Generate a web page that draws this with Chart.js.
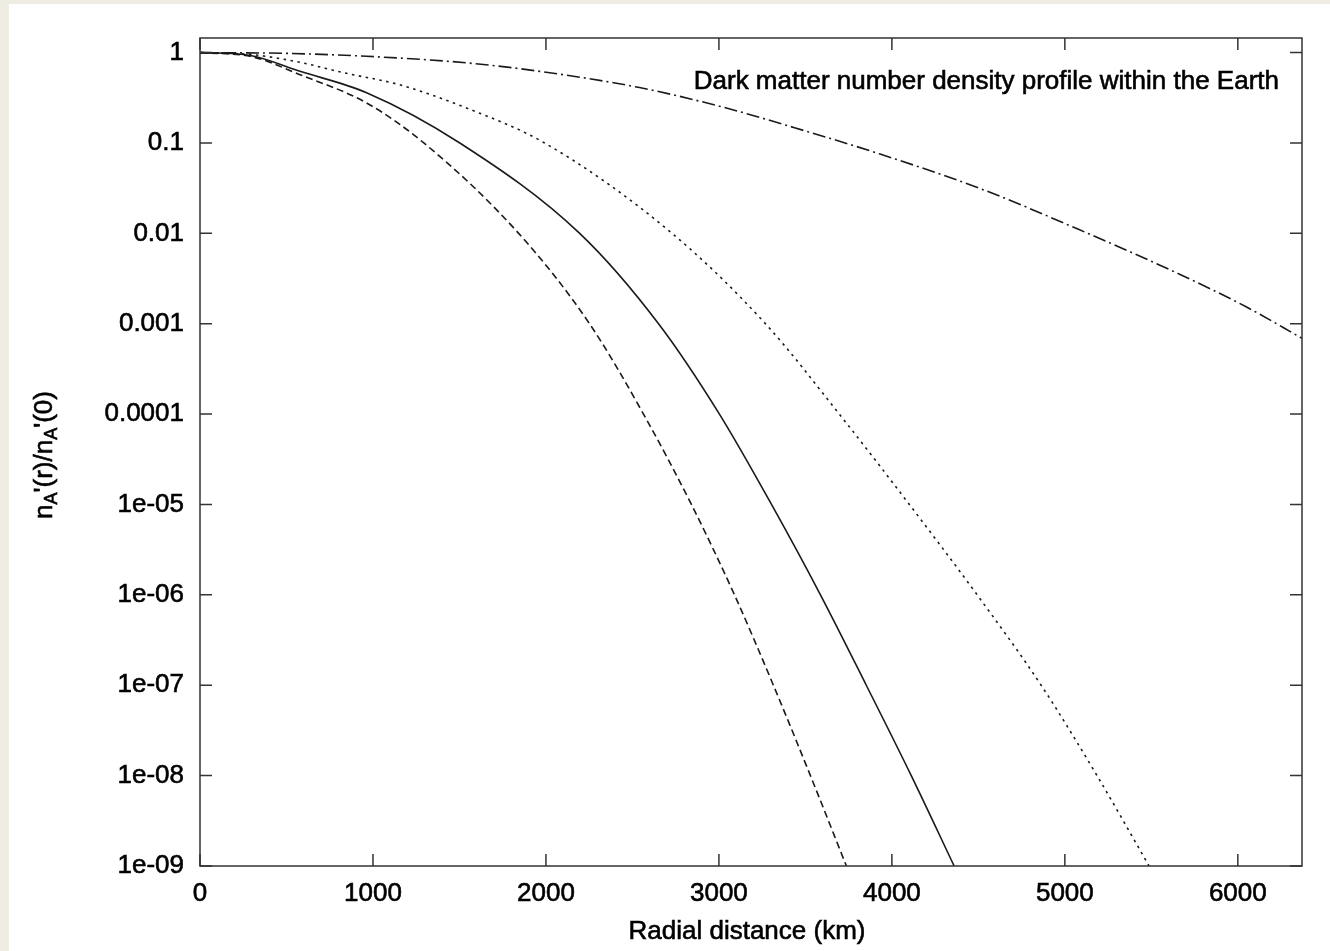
<!DOCTYPE html>
<html lang="en">

<head>
    <meta charset="UTF-8" />
    <title>Dark matter number density profile within the Earth</title>
    <script src="https://cdn.jsdelivr.net/npm/chart.js"></script>
    <style>
        html,
        body {
            margin: 0;
            padding: 0;
            background: #eeece3;
        }

        #panel {
            position: absolute;
            left: 9px;
            top: 4px;
            width: 1321px;
            height: 947px;
            background: #ffffff;
        }
    </style>
</head>

<body>

    <div id="panel"><canvas id="profileChart"></canvas></div>

    <script>
        // Radial distance (km) and n_A'(r)/n_A'(0)
        // (mostly the radius where each curve crosses a decade line)
        const radiusDashed = [0, 300, 578, 963, 1294, 1842, 2252, 2564, 2841, 3090, 3315, 3529, 3737];
        const densityDashed = [1, 0.9, 0.57, 0.277, 0.1, 0.01, 1e-3, 1e-4, 1e-5, 1e-6, 1e-7, 1e-8, 1e-9];

        const radiusSolid = [0, 290, 578, 963, 1502, 2195, 2651, 3003, 3304, 3587, 3852, 4112, 4360];
        const densitySolid = [1, 0.93, 0.62, 0.36, 0.1, 0.01, 1e-3, 1e-4, 1e-5, 1e-6, 1e-7, 1e-8, 1e-9];

        const radiusDotted = [0, 300, 578, 828, 1155, 1540, 1992, 2729, 3269, 3696, 4101, 4493, 4863, 5186, 5487];
        const densityDotted = [1, 0.95, 0.78, 0.6, 0.44, 0.244, 0.1, 0.01, 1e-3, 1e-4, 1e-5, 1e-6, 1e-7, 1e-8, 1e-9];

        const radiusDashDot = [0, 500, 963, 1540, 1964, 2541, 3003, 3504, 3927, 4505, 5082, 5660, 6045, 6371];
        const densityDashDot = [1, 0.98, 0.91, 0.77, 0.62, 0.41, 0.255, 0.135, 0.0759, 0.0316, 0.011, 0.00355, 0.00155, 6.9e-4];

        const xTicks = [0, 1000, 2000, 3000, 4000, 5000, 6000];
        const yTicks = [1, 0.1, 0.01, 0.001, 0.0001, 1e-5, 1e-6, 1e-7, 1e-8, 1e-9];
        const yTickLabels = ['1', '0.1', '0.01', '0.001', '0.0001', '1e-05', '1e-06', '1e-07', '1e-08', '1e-09'];

        const FONT = '"Liberation Sans", Arial, sans-serif';
        const INK = '#1a1a1a';

        function toPoints(xs, ys) {
            return xs.map((x, i) => ({ x: x, y: ys[i] }));
        }

        function curve(xs, ys, dash) {
            return {
                data: toPoints(xs, ys),
                borderColor: INK,
                borderWidth: 1.6,
                borderDash: dash,
                pointRadius: 0,
                fill: false,
                cubicInterpolationMode: 'monotone'
            };
        }

        // text drawn a little heavier, the reference is slightly blurred
        function heavyText(ctx, txt, x, y) {
            ctx.strokeText(txt, x, y);
            ctx.fillText(txt, x, y);
        }

        // gnuplot style frame: border on four sides, ticks pointing inwards
        const framePlugin = {
            id: 'frame',
            afterDatasetsDraw(chart) {
                const ctx = chart.ctx;
                const a = chart.chartArea;
                const xs = chart.scales.x;
                const ys = chart.scales.y;
                const len = 12;

                ctx.save();
                ctx.strokeStyle = '#333333';
                ctx.lineWidth = 1.5;
                ctx.strokeRect(a.left, a.top, a.right - a.left, a.bottom - a.top);

                ctx.beginPath();
                xTicks.forEach(v => {
                    const px = xs.getPixelForValue(v);
                    ctx.moveTo(px, a.bottom);
                    ctx.lineTo(px, a.bottom - len);
                    ctx.moveTo(px, a.top);
                    ctx.lineTo(px, a.top + len);
                });
                yTicks.forEach(v => {
                    const py = ys.getPixelForValue(v);
                    ctx.moveTo(a.left, py);
                    ctx.lineTo(a.left + len, py);
                    ctx.moveTo(a.right, py);
                    ctx.lineTo(a.right - len, py);
                });
                ctx.stroke();

                ctx.fillStyle = '#000000';
                ctx.strokeStyle = '#000000';
                ctx.lineWidth = 0.6;
                ctx.font = '26px ' + FONT;
                ctx.textBaseline = 'middle';

                // key text inside the plot
                ctx.textAlign = 'right';
                heavyText(ctx, 'Dark matter number density profile within the Earth', a.right - 23, a.top + 44);

                // x axis title
                ctx.textAlign = 'center';
                heavyText(ctx, 'Radial distance (km)', (a.left + a.right) / 2 - 4, a.bottom + 66);

                // y axis title with subscripts
                const parts = [
                    ['n', 26, 0], ['A', 18, 7], ["'(r)/n", 26, 0], ['A', 18, 7], ["'(0)", 26, 0]
                ];
                let total = 0;
                parts.forEach(p => {
                    ctx.font = p[1] + 'px ' + FONT;
                    total += ctx.measureText(p[0]).width;
                });
                ctx.translate(36, 451);
                ctx.rotate(-Math.PI / 2);
                ctx.textAlign = 'left';
                let cx = -total / 2;
                parts.forEach(p => {
                    ctx.font = p[1] + 'px ' + FONT;
                    heavyText(ctx, p[0], cx, p[2]);
                    cx += ctx.measureText(p[0]).width;
                });
                ctx.restore();
            }
        };

        const tickFont = { family: FONT, size: 26 };

        const ctx = document.getElementById('profileChart').getContext('2d');

        new Chart(ctx, {
            type: 'line',
            data: {
                datasets: [
                    curve(radiusDashed, densityDashed, [7, 4]),
                    curve(radiusSolid, densitySolid, []),
                    curve(radiusDotted, densityDotted, [2.5, 4.5]),
                    curve(radiusDashDot, densityDashDot, [13, 4, 2, 4])
                ]
            },
            options: {
                responsive: true,
                maintainAspectRatio: false,
                animation: false,
                layout: {
                    padding: { top: 34, right: 28, left: 0, bottom: 0 }
                },
                plugins: {
                    legend: { display: false },
                    tooltip: { enabled: false }
                },
                scales: {
                    x: {
                        type: 'linear',
                        min: 0,
                        max: 6371,
                        grid: { display: false, drawTicks: false },
                        border: { display: false },
                        afterBuildTicks: s => { s.ticks = xTicks.map(v => ({ value: v })); },
                        afterFit: s => { s.height = 85; },
                        ticks: {
                            color: '#000000',
                            font: tickFont,
                            padding: 12,
                            maxRotation: 0,
                            textStrokeColor: '#000000',
                            textStrokeWidth: 0.6,
                            callback: v => String(v)
                        }
                    },
                    y: {
                        type: 'logarithmic',
                        min: 1e-9,
                        max: 1.45,
                        grid: { display: false, drawTicks: false },
                        border: { display: false },
                        afterBuildTicks: s => { s.ticks = yTicks.map(v => ({ value: v })); },
                        afterFit: s => { s.width = 191; },
                        ticks: {
                            color: '#000000',
                            font: tickFont,
                            padding: 16,
                            textStrokeColor: '#000000',
                            textStrokeWidth: 0.6,
                            callback: (v, i) => yTickLabels[i]
                        }
                    }
                }
            },
            plugins: [framePlugin]
        });
    </script>
</body>

</html>
